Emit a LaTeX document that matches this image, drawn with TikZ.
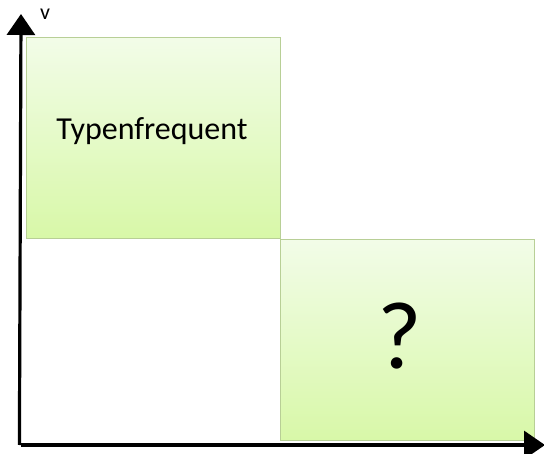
\documentclass[tikz,border=0pt]{standalone}
\usepackage{fontspec}
\setmainfont{Carlito}
\usetikzlibrary{arrows.meta,shadows}
\definecolor{boxtop}{HTML}{F2FCE8}
\definecolor{boxbottom}{HTML}{D8F8A8}
\definecolor{boxline}{HTML}{B8CF96}
\tikzset{
  field/.style={draw=boxline, line width=0.8pt, top color=boxtop, bottom color=boxbottom,
    minimum width=254pt, minimum height=201pt, inner sep=0pt, anchor=north west,
    drop shadow={shadow xshift=1pt, shadow yshift=-1pt, opacity=0.25}},
  axis/.style={line width=3.2pt, -{Triangle[length=21pt,width=28pt]}}
}
\begin{document}
\begin{tikzpicture}[x=1pt,y=-1pt]
\useasboundingbox (0,0) rectangle (544,454);
\coordinate (o) at (21,445);
\coordinate (ytip) at (21,14);
\coordinate (xtip) at (545,445);
\node[field] (tf) at (26,37) {};
\node[font=\fontsize{32}{36}\selectfont] (tftext) at (152,131) {Typenfrequent};
\node[field] (q) at (280,239) {};
\node[font=\fontsize{96}{100}\selectfont] (qtext) at (400,336) {?};
\draw[axis] ([xshift=-1.6pt]o) -- (ytip);
\draw[axis] (o) -- (xtip);
\node[font=\fontsize{22}{24}\selectfont] (v) at (45,14) {v};
\end{tikzpicture}
\end{document}
